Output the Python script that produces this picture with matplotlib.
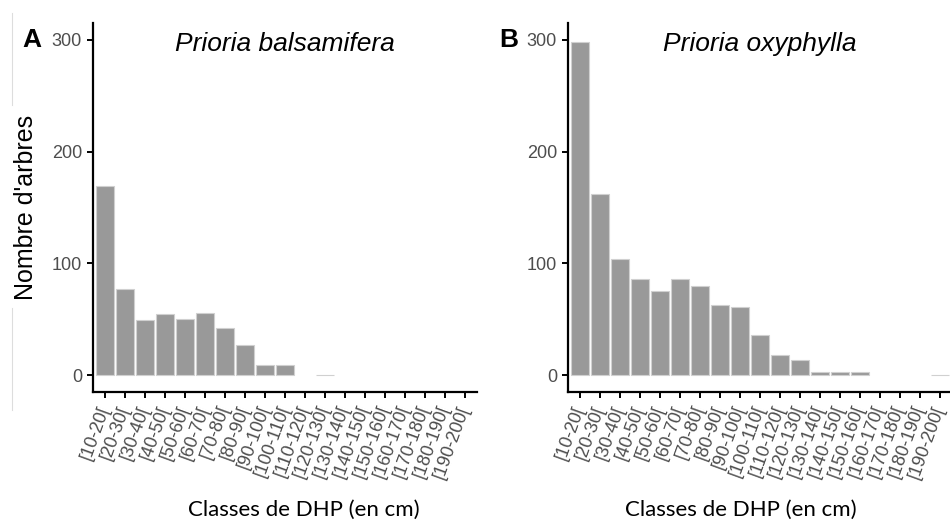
import matplotlib
matplotlib.use("Agg")
import matplotlib.pyplot as plt
from matplotlib.lines import Line2D

# DBH classes (cm) and tree counts per class; None = class absent from data
classes = ["[10-20[", "[20-30[", "[30-40[", "[40-50[", "[50-60[",
           "[60-70[", "[70-80[", "[80-90[", "[90-100[", "[100-110[",
           "[110-120[", "[120-130[", "[130-140[", "[140-150[", "[150-160[",
           "[160-170[", "[170-180[", "[180-190[", "[190-200["]
balsamifera = [169, 77, 49, 55, 50, 56, 42, 27, 9, 9,
               None, 0, None, None, None, None, None, None, None]
oxyphylla = [298, 162, 104, 86, 75, 86, 80, 63, 61, 36,
             18, 14, 3, 3, 3, None, None, None, 0]
yticks = [0, 100, 200, 300]

W, H = 950, 522
fig = plt.figure(figsize=(W / 100, H / 100), dpi=100)

arial = "Liberation Sans"


def draw_panel(left_px, counts, species, letter, letter_x, xlabel_x):
    ax = fig.add_axes([left_px / W, (H - 392) / H, 384 / W, 369 / H])
    xs = [i for i, c in enumerate(counts) if c is not None]
    hs = [c for c in counts if c is not None]
    ax.bar(xs, hs, width=0.9, color="#999999", edgecolor="#d0d0d0",
           linewidth=0.8)
    ax.set_xlim(-0.6, len(classes) - 0.4)
    ax.set_ylim(-15, 315)
    for s in ["top", "right"]:
        ax.spines[s].set_visible(False)
    for s in ["left", "bottom"]:
        ax.spines[s].set_linewidth(1.6)
    ax.set_yticks(yticks)
    ax.set_yticklabels([str(v) for v in yticks], family=arial, fontsize=13,
                       color="#4d4d4d")
    ax.set_xticks(range(len(classes)))
    ax.set_xticklabels(classes, family=arial, fontsize=13, color="#4d4d4d",
                       rotation=70, ha="right", va="center",
                       rotation_mode="anchor")
    ax.tick_params(axis="both", length=4, width=1.4, color="black")
    ax.tick_params(axis="y", pad=4)
    ax.tick_params(axis="x", pad=6)
    ax.text(0.5, 0.924, species, transform=ax.transAxes, ha="center",
            va="baseline", family=arial, style="italic", fontsize=19)
    fig.text(letter_x / W, 1 - 47 / H, letter, ha="left", va="baseline",
             family=arial, weight="bold", fontsize=19)
    fig.text(xlabel_x / W, 1 - 510 / H, "Classes de DHP (en cm)",
             ha="center", va="center", family="Lato", fontsize=16)
    return ax


draw_panel(93, balsamifera, "Prioria balsamifera", "A", 22, 304)
draw_panel(568, oxyphylla, "Prioria oxyphylla", "B", 499, 741)

fig.text(26 / W, 1 - 207 / H, "Nombre d'arbres", rotation=90, ha="center",
         va="center", family=arial, fontsize=18)

# thin frame remnant on the left edge
for y0, y1 in [(13, 105), (308, 410)]:
    fig.add_artist(Line2D([12 / W, 12 / W], [1 - y0 / H, 1 - y1 / H],
                          color="#dddddd", linewidth=0.8))

fig.savefig("out.png", dpi=100)
